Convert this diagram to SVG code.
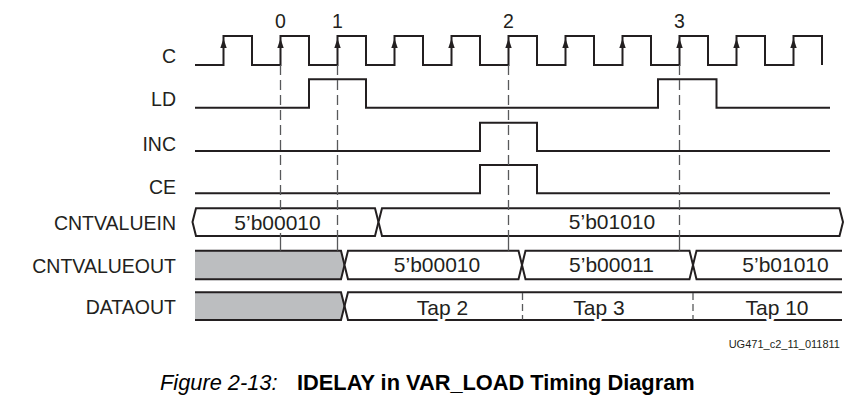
<svg xmlns="http://www.w3.org/2000/svg" xmlns:xlink="http://www.w3.org/1999/xlink" width="860" height="414" viewBox="0 0 860 414">
<style>
.sig{fill:none;stroke:#231f20;stroke-width:2;stroke-linejoin:miter}
.bus{fill:#ffffff;stroke:#231f20;stroke-width:2}
.gray{fill:#bcbec0;stroke:none}
.dash{fill:none;stroke:#58595b;stroke-width:1.3;stroke-dasharray:10 5}
.tick{fill:none;stroke:#58595b;stroke-width:1.3}
.lbl{font-family:"Liberation Sans",Arial,sans-serif;font-size:19.5px;fill:#231f20;text-anchor:end}
.val{font-family:"Liberation Sans",Arial,sans-serif;font-size:21px;fill:#231f20;text-anchor:middle;stroke:#ffffff;stroke-width:6;paint-order:stroke;stroke-linejoin:round}
.num{font-family:"Liberation Sans",Arial,sans-serif;font-size:19.5px;fill:#231f20;text-anchor:middle}
.arr{fill:#231f20}
</style>
<defs>
<path id="arr" d="M0,38.5 L-3.2,48 L3.2,48 Z"/>
</defs>
<rect width="860" height="414" fill="#ffffff"/>

<g id="labels">
<text class="lbl" x="176" y="62.5">C</text>
<text class="lbl" x="176" y="106">LD</text>
<text class="lbl" x="176" y="150.5">INC</text>
<text class="lbl" x="176" y="194">CE</text>
<text class="lbl" x="176" y="230">CNTVALUEIN</text>
<text class="lbl" x="176" y="272.5">CNTVALUEOUT</text>
<text class="lbl" x="176" y="314">DATAOUT</text>
</g>

<g id="edge-numbers">
<text class="num" x="280.5" y="28">0</text>
<text class="num" x="337.5" y="28">1</text>
<text class="num" x="508.5" y="28">2</text>
<text class="num" x="679.5" y="28">3</text>
</g>

<g id="sig-C">
<path class="sig" d="M195,65 H223.5 V36 H252 V65 H280.5 V36 H309 V65 H337.5 V36 H366 V65 H394.5 V36 H423 V65 H451.5 V36 H480 V65 H508.5 V36 H537 V65 H565.5 V36 H594 V65 H622.5 V36 H651 V65 H679.5 V36 H708 V65 H736.5 V36 H765 V65 H793.5 V36 H822 V65"/>
<g class="arr">
<use xlink:href="#arr" x="223.5"/><use xlink:href="#arr" x="280.5"/><use xlink:href="#arr" x="337.5"/><use xlink:href="#arr" x="394.5"/><use xlink:href="#arr" x="451.5"/><use xlink:href="#arr" x="508.5"/><use xlink:href="#arr" x="565.5"/><use xlink:href="#arr" x="622.5"/><use xlink:href="#arr" x="679.5"/><use xlink:href="#arr" x="736.5"/><use xlink:href="#arr" x="793.5"/>
</g>
</g>

<g id="sig-LD">
<path class="sig" d="M195,107.7 H309 V79.3 H366 V107.7 H658 V79.3 H716.5 V107.7 H830"/>
</g>
<g id="sig-INC">
<path class="sig" d="M195,151 H480 V122.7 H537 V151 H830"/>
</g>
<g id="sig-CE">
<path class="sig" d="M195,193.3 H480 V165 H537 V193.3 H830"/>
</g>

<g id="bus-CNTVALUEIN">
<path class="bus" d="M196,208.3 H375 L378.5,222 L375,236 H196 L192.5,222 Z"/>
<path class="bus" d="M382,208.3 H839.5 L843,222 L839.5,236 H382 L378.5,222 Z"/>
</g>

<g id="bus-CNTVALUEOUT">
<path class="gray" d="M195,250.7 H341 L344.5,265 L341,279.3 H195 Z"/>
<path class="sig" d="M195,250.7 H341 L344.5,265 L341,279.3 H195"/>
<path class="bus" d="M348,250.7 H518.5 L522,265 L518.5,279.3 H348 L344.5,265 Z"/>
<path class="bus" d="M525.5,250.7 H689.5 L693,265 L689.5,279.3 H525.5 L522,265 Z"/>
<path class="sig" d="M842,250.7 H696.5 L693,265 L696.5,279.3 H842"/>
</g>

<g id="bus-DATAOUT">
<path class="gray" d="M195,292.3 H341 L344.5,306 L341,320 H195 Z"/>
<path class="sig" d="M195,292.3 H341 L344.5,306 L341,320 H195"/>
<path class="sig" d="M842,292.3 H348 L344.5,306 L348,320 H842"/>
</g>

<g id="connectors">
<line class="dash" x1="280.5" y1="65" x2="280.5" y2="236"/>
<line class="dash" x1="337.5" y1="65" x2="337.5" y2="236"/>
<line class="dash" x1="508.5" y1="65" x2="508.5" y2="236"/>
<line class="dash" x1="679.5" y1="65" x2="679.5" y2="236"/>
<line class="tick" x1="280.5" y1="236" x2="280.5" y2="250.7"/>
<line class="tick" x1="337.5" y1="236" x2="337.5" y2="250.7"/>
<line class="tick" x1="508.5" y1="236" x2="508.5" y2="250.7"/>
<line class="tick" x1="679.5" y1="236" x2="679.5" y2="250.7"/>
<line class="dash" x1="522.5" y1="293" x2="522.5" y2="319.5" style="stroke-dasharray:7 4"/>
<line class="dash" x1="693" y1="293" x2="693" y2="319.5" style="stroke-dasharray:7 4"/>
</g>

<g id="values">
<text class="val" x="277.5" y="229.5">5’b00010</text>
<text class="val" x="612" y="229">5’b01010</text>
<text class="val" x="437" y="272">5’b00010</text>
<text class="val" x="611.5" y="272">5’b00011</text>
<text class="val" x="785.5" y="272">5’b01010</text>
<text class="val" x="442.5" y="314.5">Tap 2</text>
<text class="val" x="599" y="314.5">Tap 3</text>
<text class="val" x="777" y="314.5">Tap 10</text>
</g>

<text x="840" y="348" font-family="'Liberation Sans',Arial,sans-serif" font-size="11" fill="#231f20" text-anchor="end">UG471_c2_11_011811</text>

<text x="160" y="390" font-family="'Liberation Sans',Arial,sans-serif" font-size="21.8" fill="#000000"><tspan font-style="italic">Figure 2-13:</tspan><tspan x="297" font-weight="bold">IDELAY in VAR_LOAD Timing Diagram</tspan></text>
</svg>
